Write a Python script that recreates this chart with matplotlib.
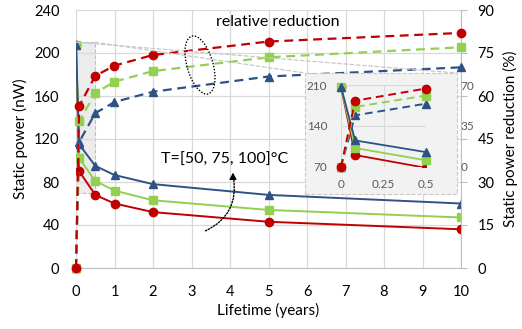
import matplotlib
matplotlib.use('Agg')
import matplotlib.pyplot as plt
from matplotlib.patches import Rectangle, Ellipse, FancyArrowPatch, ConnectionPatch
from matplotlib.transforms import IdentityTransform

# Datos
lifetime = [0, 0.083, 0.5, 1, 2, 5, 10]
power_50 = [207, 90, 68, 60, 52, 43, 36]
power_75 = [207, 102, 81, 72, 63, 54, 47]
power_100 = [207, 115, 95, 86.5, 78, 68, 60]
red_50 = [0, 56.5, 67, 70.6, 74.3, 79, 82]
red_75 = [0, 51.2, 61, 65, 68.7, 73.5, 77]
red_100 = [0, 44, 54, 57.9, 61.5, 66.8, 70]

x_ticks = list(range(0, 11))
y_ticks = [0, 40, 80, 120, 160, 200, 240]
y2_ticks = [0, 15, 30, 45, 60, 75, 90]
inset_x_ticks = [0, 0.25, 0.5]
inset_y_ticks = [70, 140, 210]
inset_y2_ticks = [0, 35, 70]
n_inset = 3  # puntos con lifetime <= 0.5

colores = ['#C00000', '#92D050', '#2E5283']
marcadores = ['o', 's', '^']
potencias = [power_50, power_75, power_100]
reducciones = [red_50, red_75, red_100]

plt.rcParams['font.family'] = ['Lato', 'DejaVu Sans']
W, H = 522, 329
fig = plt.figure(figsize=(W / 100, H / 100), dpi=100)


def px(x, y):
    # pixel (desde arriba) -> fraccion de figura
    return x / W, 1 - y / H


# ---------- grafico principal ----------
x0, y0 = px(76, 268)
x1, y1 = px(461, 10)
ax = fig.add_axes([x0, y0, x1 - x0, y1 - y0])
ax2 = ax.twinx()

ax.set_xlim(0, 10)
ax.set_ylim(0, 240)
ax2.set_ylim(0, 90)
ax.set_xticks(x_ticks)
ax.set_yticks(y_ticks)
ax2.set_yticks(y2_ticks)
ax.grid(True, color='#d9d9d9', linewidth=0.9)
ax.set_axisbelow(True)
for s in ['top', 'left']:
    ax.spines[s].set_visible(False)
    ax2.spines[s].set_visible(False)
ax.spines['bottom'].set_color('#bfbfbf')
ax.spines['right'].set_visible(False)
ax2.spines['bottom'].set_visible(False)
ax2.spines['right'].set_color('#bfbfbf')
ax.tick_params(axis='both', length=0, labelsize=10.5, colors='black')
ax.tick_params(axis='y', pad=12)
ax.tick_params(axis='x', pad=12)
ax2.tick_params(axis='y', length=4, width=0.8, color='#bfbfbf', pad=8, labelsize=10.5)

# zona ampliada
ax.add_patch(Rectangle((0, 70), 0.5, 140, facecolor='#ececec', edgecolor='#c0c0c0',
                       linestyle='--', linewidth=0.8, zorder=0.5))

for p, c, m in zip(potencias, colores, marcadores):
    ax.plot(lifetime, p, color=c, marker=m, markersize=6, linewidth=1.4, zorder=3)
for r, c, m in zip(reducciones[::-1], colores[::-1], marcadores[::-1]):
    ax2.plot(lifetime, r, color=c, marker=m, markersize=6, linewidth=1.6,
             linestyle=(0, (4, 2.5)), zorder=3, clip_on=False)

ax.set_xlabel('Lifetime (years)', fontsize=11)
ax.set_ylabel('Static power (nW)', fontsize=11)
ax2.set_ylabel('Static power reduction (%)', fontsize=11)
ax.xaxis.set_label_coords(0.5, -0.135)
ax.yaxis.set_label_coords(-0.125, 0.5)
ax2.yaxis.set_label_coords(1.11, 0.5)

# ---------- recuadro ----------
bx0, by0 = px(305, 194)
bx1, by1 = px(457, 73)
fondo = Rectangle((bx0, by0), bx1 - bx0, by1 - by0, transform=fig.transFigure,
                  facecolor='#f2f2f2', edgecolor='#c8c8c8', linestyle='--',
                  linewidth=0.8, zorder=5)
fig.add_artist(fondo)

ix0, iy0 = px(341, 166.7)
ix1, iy1 = px(426, 85)
axi = fig.add_axes([ix0, iy0, ix1 - ix0, iy1 - iy0], zorder=6)
axi2 = axi.twinx()
axi2.set_zorder(7)
axi.set_facecolor('none')
axi.set_xlim(0, 0.5)
axi.set_ylim(70, 210)
axi2.set_ylim(0, 70)
axi.set_xticks(inset_x_ticks)
axi.set_xticklabels(['0', '0.25', '0.5'])
axi.set_yticks(inset_y_ticks)
axi2.set_yticks(inset_y2_ticks)
axi.grid(True, color='#d9d9d9', linewidth=0.8)
for a in (axi, axi2):
    for s in a.spines.values():
        s.set_visible(False)
axi.tick_params(axis='both', length=0, labelsize=8.5, colors='#595959')
axi.tick_params(axis='y', pad=10)
axi.tick_params(axis='x', pad=9)
axi2.tick_params(axis='y', length=0, labelsize=8.5, colors='#595959', pad=25)

for p, c, m in zip(potencias, colores, marcadores):
    axi.plot(lifetime[:n_inset], p[:n_inset], color=c, marker=m, markersize=6,
             linewidth=1.3, clip_on=(c == colores[0]))
for r, c, m in zip(reducciones[::-1], colores[::-1], marcadores[::-1]):
    axi2.plot(lifetime[:n_inset], r[:n_inset], color=c, marker=m, markersize=6,
              linewidth=1.4, linestyle=(0, (4, 2.5)), clip_on=False)

# lineas de conexion
for xa, xb in [(0, bx1), (0.5, bx0)]:
    con = ConnectionPatch(xyA=(xa, 210), coordsA=ax.transData, xyB=(xb, by1),
                          coordsB=fig.transFigure, color='#c8c8c8',
                          linestyle=(0, (3, 2)), linewidth=0.9, zorder=1)
    fig.add_artist(con)

# anotaciones
fig.text(278 / W, 1 - 22 / H, 'relative reduction', ha='center', va='center', fontsize=11.5)
fig.text(225 / W, 1 - 160 / H, 'T=[50, 75, 100]°C', ha='center', va='center', fontsize=11.5)

elipse = Ellipse((200, H - 65), 60, 26, angle=106, transform=IdentityTransform(),
                 fill=False, edgecolor='black', linestyle=(0, (1, 1.2)), linewidth=1.0)
fig.add_artist(elipse)

curva = FancyArrowPatch((203, H - 232), (233, H - 175), transform=IdentityTransform(),
                        connectionstyle='arc3,rad=0.4', arrowstyle='-',
                        linestyle=(0, (1, 1.2)), linewidth=1.0, color='black')
fig.add_artist(curva)
punta = FancyArrowPatch((233, H - 178), (233, H - 170), transform=IdentityTransform(),
                        arrowstyle='-|>,head_length=4,head_width=2.2', linewidth=0.8,
                        color='black', mutation_scale=1)
fig.add_artist(punta)

fig.savefig('out.png', dpi=100)
